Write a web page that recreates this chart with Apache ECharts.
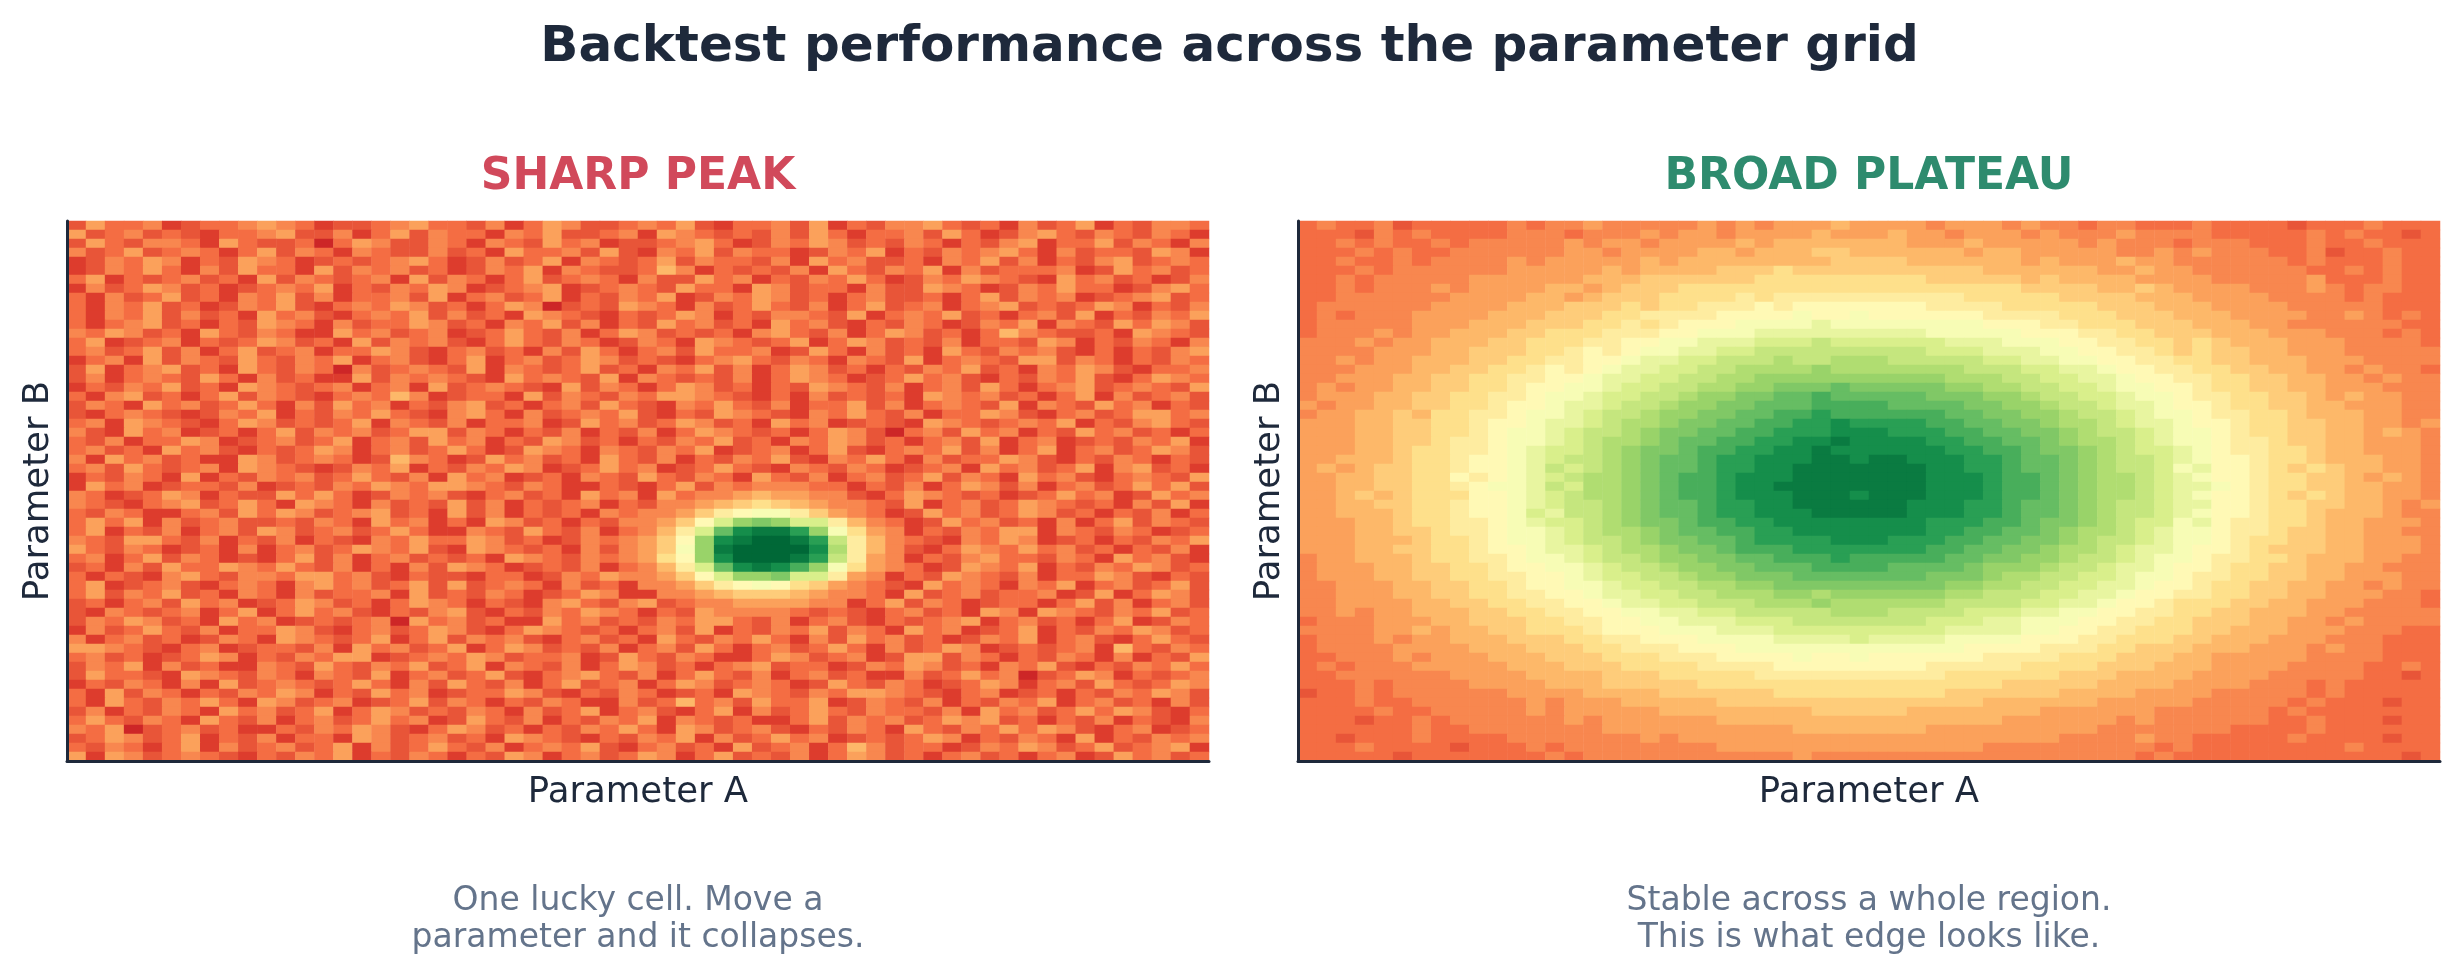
<!DOCTYPE html>
<html>

<head>
    <meta charset="utf-8" />
    <title>Backtest performance across the parameter grid</title>
    <script src="https://cdn.jsdelivr.net/npm/echarts@6.0.0/dist/echarts.min.js"></script>
    <style>
        html, body { margin: 0; padding: 0; background: #ffffff; }
        #main { width: 2459px; height: 972px; }
    </style>
</head>

<body>
    <div id="main"></div>

    <script type="text/javascript">
        // Each letter is one grid cell: a = 0.00 ... z = 1.00 on the colour scale.
        // Rows run top to bottom, 60 cells per row (spaces are only there for reading).
        var sharpPeakRows = [
            'ehffgdeffg hgfdeefghf fegdfhgeef gfhedffgeh dfegghfefd gefhdfeggf',
            'hefgefe dffgheegdf hegffdgfhe efgdhgfefe gehfdffgeh fdeghfegfe gfd',
            'ehf eggfdhfeef cfhgeegfdg fehfgdeefg hfdegfhgef egfdfeghdf fhegfdg',
            'gefhefgfd fhegfdgfee gefdhffgeh edgfhegffd egfhdfegfg hfdgeffehg d',
            'degfh gdfehgfdef efghfdegef hdgfefhegf fegdhfgeef dgfhegdfeg hefgf',
            'd egfhfdgehf fdhegfgefd egfhdgfeef igdfefegdh fegfhdgeff fgdehfgef',
            'fhdfefge fdhegfefgd hegfdfhefg fdgeehfgdf egfhfdegfh gfedhfgefd eg',
            'dgef hgefdefgfh dfegfhgdef ghdefgfehf fdhgeffdge ehgfdegfhf fdeghf',
            'fdgefh efdgfhegdf fgehdfgefh dfegfhdegf hgefdfgeef dfhegfgdef ghef',
            'fd gfhefdegfh edfgfhgefd fhgcefehgf dgefhfegdf hefgdfghef efhgdfeg',
            'fdgfhegefd hfgedfgfhe gefdhgfedf efhgdfeggf ehdfgfhefd fgehdfegfh',
            'fdfghef dfehgfdgef fhgefdgfhe gdfehfgefd hfgedfegfd egfhdgfehf hge',
            'gfh gefdhfegfd dhfgefgdef hfegdfhgef efdghfegdf hgefdfigfe efdhgfe',
            'fhdefgdfe fhgefdhegf gedfhfegfd egfdhgfefh dfhgefegdf fehgdfegfd g',
            'fgefh egdfhefgdf fhgedfgefd gehfdfgehf fgdehfdgef dhfegfgedf dfegh',
            'd fgdhegfehf egfhdfgedf hdfgefhgef edfghfegfd gfehdfgfeh hegfdfegf',
            'ehdfghef dhfegfcgef gfehdgfefh efdgfhegdf hgefdfegfh efdgfhgedf fg',
            'egdf gfehfdgefd dhegfgfedh fgfehdgfef egdfhgfdef hfgedfegfh edfhgf',
            'dfegfh efdhgfefgd fgdhefgfed hegfdfhgef dfehgfegdf gehfdfghef gfeh',
            'fd ghefdfhegf edfgfigdef fdhegfegfh hgfedfdgef efdhgfgefd fhdgefge',
            'egfdhfgefh fdgehfgdfe ghefdfgehf edgfhfegdf fhegdfgfeh dgfehfgdfe',
            'edfgfed egfhdfegfh fedghfdgef gfhedfehgf edgfhfegdf fhgedfgefh hfg',
            'fgd hgfedfhgef efhdgfegdf fgdehfgefh gefdhfgdef edhgfefgfh dfeghfe',
            'gedhfgdef dfhegfgefh hegfdfegdf egdfhgfefd fhgecfgehf gdfehfgefd f',
            'fegdf fhgdefgefh dfgehfgdfe hgefdfegfh efdgfhgefd fgehdfgdef egfhd',
            'f gefdhfgedf efhgdfgefh fdehgfdgfe gfhdefgdfh edfgfhegdf hdfgefhge',
            'gdhfgefd dhgefgfdei gfdehfgefd hfegdfegfh edgfhfdgef fhgedfegfd fe',
            'fgeh fefgdhgfed egfhdfegfh gdefhfgdef hfedgfegfd efgdhfgefh dghefd',
            'dfegfd hdfegfgefh fegdhfgdef dgfehfegfd hfegdfgefh egfdhfgedf gfeh',
            'dhfgdeffeg defegfhgfh hgfegfddfe dfhegfgggf fdfegdfhge gdfgefhfhe',
            'gfdefhgdfe ehfhfdegfg edfgefdhfg dhfgghihhg gedfhgfefd efhfgdehfg',
            'gfedfghefh fdhgfdgefe hegdfefgdf egghijkjih ggfehdfgef hgfefdgehd',
            'fegfddfgeh fhgefghefd hegdfefdgf gghjlmnnlj hgfdehfgef hgefdfegdf',
            'fhfhdgefge efegfdhfgd fdhgefdfeg ghjmpstspp ligfdehfge fdgdfhegfe',
            'fhdfegdfge hgefgefhfd dgfehfegdf gilpuxyyws nkhgdfegfh hdgfegfdef',
            'gfehhfegdf egdfedgfhf fhgefdegfg hjmsxyzzyw qligfedgfh gdefdfegfh',
            'hfegfdefdg dfgefhgfhe dhgfefdgeg hjnsyzzzzx rligedfhgf hfgefdfegd',
            'fgdfhegfde dfhegdfgef efdhgfegfg hkmsxzzzyw qlhgdfeghf fegfdhfged',
            'efdgehffhg fhfegdfdge hgfdefegdf gilpuxyxvs nkhgfdehgf hdfegfhgef',
            'fdfedghfeg gfhhfgedfe edffdegfhg ghjmpsstpp lhgdfehgfe gdffhgedfe',
            'fhdefgedfg fdghfgefhe hefgfdgefd gghjlmnmkj hgfedhfgfd gfhdfgefhe',
            'fhegfhefdg fdgeffgdhe fegfdefhgd dgghijjjih ggfdhefgef fgdehdfhge',
            'efdfgehfgd efhgefdfhg fdfedghfeg hefgghhhhg gdfhegfdef fdfhegdfge',
            'edgfefgdfh dfhfgedfeg hedfegfhgf dfehggggfe fedfgefdhg dhgfegfhef',
            'egfh gefdhfgdef efgchfgefd dhfgefegfh hfegdfgedf efghdfgefd fhdegf',
            'dgefhfegdf fhgedfgefh gedfhgfefd fgehdfegfh egfdhfgdef hdfegfhgef',
            'gdfgefd egfdhgfefh dfhegfgedf gefdhfegfh fdgehfgefd egfhdfgedf hfe',
            'h hgfedfgdef fegdhfgefh dfhgefegdf gehfdfgefh fdgefhgdef efgdifegf',
            'fgefd efhgdfegfh hdefgfhgef fgdehfegfd dfhgefgdeh hegfdfegfd gdfeh',
            'egfhdgefd dgfehfegfh efhdgfegdf hgefdfghef fdegfhgefd gfhedfegfh f',
            'ehf fedhgfegfd gfehdfgefh edfghfegdf hfegdfgefd dgefhfgcef hgdfefg',
            'dfegfd gdhefgfefh fdgehfegdf hefgdfhgef gfdehfegfd efhgdfgehf efhg',
            'fd hegfdfegfh gdfehfgdef fhgedfegfd efdhgfegfh hgfedfgdef dfegfhge',
            'fdhfegfh fdhgefgdef hegfdfegfd dgefifgehf fhdegfegdf egfhdfgefd ge',
            'egdf egfdhfgefh dfhgefegfd gefhdfgedf hdgefhfegf fegdhfgefh fhgedf',
            'fhfegfd hfegdfgefh fgdehfegdf egfhdgfefd dfhegfgefh ghefdfegdf edg',
            'gfhcefgefd dfegfhgedf hgefdfegfh fdhgefgedf egfdhfegfh fhgedfgdef',
            'efh gefhdfegdf fdhgefgefd hgfedfegfh dgefhfgdef efhgdfegfd hdfegfg',
            'fegfd fhdgefgefh dgefhfegdf gfhedfgefd hefgdfigef fdegfhgefh efghd',
            'h dhgefgfedf egfhdfegfd fehgdfgefh gdfhefegdf hgefdfgefd fgdehfgef'
        ];

        var broadPlateauRows = [
            'fgffgeffff fgfgghgggg ghghghhhih hhhghhhghg gfggfffgff ffefffgfff',
            'fffegfgfff fgggfggghg hhghhhhihh hihhghhhgh ggghggggff fffgfgffef',
            'ffgfgffgfg gggghghhgh hhhihiiiii iihhhihhhh hghgggfggg fffgffgfff',
            'fffgfgffgg gggghhghhh hiihiiijji iiiiihiihh hhhgghghgg gffgeffgff',
            'ffgffgfggg ghghhhhhih iiiiiiiijj jjiiiiiihi hhhihhgggg ggfgfffgff',
            'fffgfggggg ghhhhhihii iijjjkjjjj jjjjjjiiii iihhihhggg gggffgfgff',
            'ffgfgggggh hhhhhiiijj jjjjkkkkkk kkkjjjjjij iiiihhhhgg ggghfffgff',
            'ffgfggghgh hhhiihijjj kkkkkkkkkk kkkkkkkkjj jjiijihhhh ggghgfggff',
            'ffgggggghh hhiihijjjk kkklklllll lllllkkkkk jjjjiiihhh hggggfgfff',
            'fgggggghhh hiiijjjkjk klllmlmmmm mmmllllkkk kkjjjiiihh hhgggggfff',
            'fgfggghhhh iiijjjkkll llmmmmnmmn mmmmmmllll kkkjjjiiih hhhgghgfgf',
            'fggggghhhi iijjjkklkl mmmnnnnonn nnnnnnmmml lkkkjjjiii hhggggggff',
            'fggghghhii ijjkkklllm mnnnoooooo ooonnnnnmm mllkkjjjii ihhhgggfgf',
            'ggghghhiii jjkkkllmmn nooopppqpp ppppooonnn mmllkkjkji iihhhggggf',
            'gggghhhiij jjkklmlmnn ooppqqqqqq qqqpppooon nmmllkjkjj iihhhggggg',
            'gghghhiiij jkkllmmnoo ppqqqrqqrr rqqqqqppoo nnmmllkkjj iiihhhgggg',
            'ggghhhiijj kklmlmnoop pqqrrrrsrr rrrrrqqqpp oonmmllkkj jiihhghggf',
            'gghhhiijjk kllmmnoopp qqrrssssss ssssrrrqqp poonmmllkk jjiihhghgg',
            'ghghhiijjk klmmnnoppq qrrsstttut ttttssrrqq pponnmmlkk jjiihhhggg',
            'ghhhiijjkk llmnnoppqq rssttuuvuu uuutttssrq qpponnmllk kjjihihhgg',
            'hghhiijjkk lmmnoopqqr ssttuuuvvv vuuuuttssr qqpoonmmlk kjjiihhhgg',
            'ghhiijikkl lmnnopqqrs sttuuvvwvv vvvvuuttss rqqponnmll kkjiiihhgg',
            'hhhiijjkkl mmnoopqrrs ttuuvvwwxw wwwvvuutts rrqpoonmml kkjjiihhgh',
            'hhhiijjkkl mnnopqqrst tuuvvwwwxx xwwwvvuutt srqqponnml kkjjiihihg',
            'hhhiijjkll mnnopqrrst uuvvwwxxyx xxxwwvvuut srrqponnml lkjjiihhhg',
            'hhhiijkkll mnoppqrstt uvvwwxxyxx xxxxwwvvut tsrqpponml lkkjiihhhg',
            'hhiiijkklm mnopqqrstu uvwwxxxyyx yyxxxwwvuu tsrqqponmm lkkjiiihhg',
            'hihijjkklm mnoqpqrstu uvwwxxyyyy yyyxxwwvuu tsrqqpnomm lkjkjiihhg',
            'hhiijjkkml mnopqrrstu vvwxxxyyyy yyyxxxwvvu tsrrqponmm lkkjjihihg',
            'hhiijjkklm nnoqprrstu vvwxxyyyyy yyyxxxwvvu tsrrqpoonm lkkjjiihhg',
            'hhijijkkkm mnopqrrstu vvwxxxyyyx yyyxxxwvvu tsrrqponmm lkjkjiihhg',
            'hhiijjkklm mnopqqrstu uvwwxxyyyy yyxxxwwvuu tsrqqpoomm lkkjjiihgh',
            'hhiiijkklm mnpoqqrstu uvwwxxxyyy yyxxxwwvuu tsrqqponmm lkkjiiihgg',
            'hhhiijkkll mnoppqrstt uvvwwxxxxx xxxwwwvvut tsrqppnoml lkkjiihhhg',
            'hhhiijjkll mnnopqrrst uuvvwwxxxx xxxwwvvuut srrqponnml lkjjiihhgg',
            'hhhiiijkkl mnnopqqrst tuuvwwwwxx xwwwvvuutt srqqponnml kkjjiihhhg',
            'hhhiijjkkl mmnoopqrrs ttuvvvwwww wwwvvuutts rrqpoonmml kjjjiihhhg',
            'ghhiiijkkl lmnnopqqrs sttuuvvvwv vvvvuuttss rqqponnmll kkjiiihhgg',
            'ghhhiijjkk lmmnnopqqr ssttuuuvvv vuuuutsssr qqpoonmmlk kjjiihhggg',
            'ghhhiijjkk llmmnoppqq rsstttuuuu uuutttsrrq qpponnmllk kjjiihhhgg',
            'gghhhiijjk klmmnnoppq qrrssttttt ttttssrrqq ppoonmmlkk jjiihhghgg',
            'gghhhiijjk kllmmnoopp qqrrrssrss ssssrrqqqp poonmmllkk jjiihhhggf',
            'gghhhhiijj kkllmmnoop pqqqrrrsrr rrrrqqqqpp oonmmlkkkj jiihhhgggf',
            'gghghhiiij jkkllmmnno oppqqqqqrr rqqqqpppoo nnmmllkkjj iiihhggggg',
            'fggghhhiij jjkkllmmnn ooopppqqqq qqqpppoonn nmmllkkjjj iihhghgggg',
            'gggghhihii jjkkklmmmn nnoooppppp ppppoooonn mmllkkkjji iihhhgggff',
            'fggghghhii ijjjkkllmm mnnnnoooop oooonnnnmm mllkkkjjii ihhhgggfff',
            'fgggghhhhi iijjjkklll mmmnnnnnnn nnnnnmmmml llkkjjjiii hhhghggfff',
            'ffggghghhh iiijjjkkkl llmmmmnmmn mmmmmmllll kkkjjjiihh hhhggggfff',
            'fgfggghhhh hiiijjjkkk kllllmmmmm mmmlllllkk kkjjjiiihh hhggggffgf',
            'ffgggggghh hhiiiijjjk kkkkllllll llllkkkkkk jjjiiiihhh hgggggffef',
            'fffgfggggh hhhiiijjjj jkkkkkkkkk kkkkkkkjjj jjiiiihhhh gggfgfffff',
            'effgfggggg ghhhhiiiij jjjjjkkkkk kkkkjjjjjj iiiihhhhgg gggfgfffff',
            'fffgffgggg gghghhhiii iijjjjjjjj jjjjjjiiii iihhhhhggg ggfgfffeff',
            'ffffgffggg gghghhhhhi iiiiiiijjj jjiiiiiiih hhhhhggggg gfgfffffff',
            'fffeffgfgg gggghghhhh hhiiiiiiii iiiiiiihhh hhhghggggg gffgfffeff',
            'ffffffgffg gggggghhhh hhhhhhiiii iiihhhhhhh hhgggggggf fffgffffff',
            'ffefffgfff fggggggghg hhhhhhhhhh hhhhhhhhhh gggghggfff ffgffffeff',
            'fffgffffef ffgfgggggg gghhhhhhhh hhhhhhgggg gggggfgfff fffffgffff',
            'fffffeffff fffgfggggg gggggghggg gggggggggg ggggfgffff ffffffffef'
        ];

        // matplotlib RdYlGn
        var rdYlGn = ['#a50026', '#d73027', '#f46d43', '#fdae61', '#fee08b', '#ffffbf',
            '#d9ef8b', '#a6d96a', '#66bd63', '#1a9850', '#006837'];

        var panelTitles = ['SHARP PEAK', 'BROAD PLATEAU'];
        var panelTitleColors = ['#d1495b', '#2e8b6e'];
        var panelNotes = [
            'One lucky cell. Move a\nparameter and it collapses.',
            'Stable across a whole region.\nThis is what edge looks like.'
        ];

        var nCols = 60, nRows = 60;
        var paramA = [], paramB = [];
        for (var i = 0; i < nCols; i++) paramA.push('A' + (i + 1));
        for (var j = 0; j < nRows; j++) paramB.push('B' + (j + 1));

        function toCells(rows) {
            var out = [];
            rows.forEach(function (row, y) {
                var s = row.replace(/ /g, '');
                for (var x = 0; x < s.length && x < nCols; x++) {
                    out.push([x, y, (s.charCodeAt(x) - 97) / 25]);
                }
            });
            return out;
        }

        var myChart = echarts.init(document.getElementById('main'), null, { renderer: 'canvas' });

        var font = '"DejaVu Sans", "Noto Sans", sans-serif';
        var ink = '#1e293b';
        var gridLeft = [67, 1298];
        var gridW = 1142, gridTop = 221, gridH = 540;

        function axisPair(k) {
            return {
                x: {
                    type: 'category', gridIndex: k, data: paramA, z: 10,
                    axisLine: { show: true, lineStyle: { color: ink, width: 3 } },
                    axisTick: { show: false }, axisLabel: { show: false }, splitLine: { show: false }
                },
                y: {
                    type: 'category', gridIndex: k, data: paramB, inverse: true, z: 10,
                    axisLine: { show: true, lineStyle: { color: ink, width: 3 } },
                    axisTick: { show: false }, axisLabel: { show: false }, splitLine: { show: false }
                }
            };
        }

        var graphics = [{
            type: 'text', x: 1229.5, y: 48,
            style: {
                text: 'Backtest performance across the parameter grid',
                fontFamily: font, fontSize: 50, fontWeight: 'bold', fill: ink,
                textAlign: 'center', textVerticalAlign: 'middle'
            }
        }];

        [0, 1].forEach(function (k) {
            var cx = gridLeft[k] + gridW / 2;
            graphics.push({
                type: 'text', x: cx, y: 178,
                style: {
                    text: panelTitles[k], fontFamily: font, fontSize: 44, fontWeight: 'bold',
                    fill: panelTitleColors[k], textAlign: 'center', textVerticalAlign: 'middle'
                }
            });
            graphics.push({
                type: 'text', x: cx, y: 792.5,
                style: {
                    text: 'Parameter A', fontFamily: font, fontSize: 35.5, fill: ink,
                    textAlign: 'center', textVerticalAlign: 'middle'
                }
            });
            graphics.push({
                type: 'text', x: gridLeft[k] - 28.5, y: gridTop + gridH / 2, rotation: Math.PI / 2,
                style: {
                    text: 'Parameter B', fontFamily: font, fontSize: 35.5, fill: ink,
                    textAlign: 'center', textVerticalAlign: 'middle'
                }
            });
            graphics.push({
                type: 'text', x: cx, y: 920,
                style: {
                    text: panelNotes[k], fontFamily: font, fontSize: 33, lineHeight: 37, fill: '#64748b',
                    textAlign: 'center', textVerticalAlign: 'middle'
                }
            });
        });

        var a0 = axisPair(0), a1 = axisPair(1);

        var option = {
            backgroundColor: '#ffffff',
            animation: false,
            grid: [
                { left: gridLeft[0], top: gridTop, width: gridW, height: gridH },
                { left: gridLeft[1], top: gridTop, width: gridW, height: gridH }
            ],
            xAxis: [a0.x, a1.x],
            yAxis: [a0.y, a1.y],
            visualMap: {
                show: false, type: 'continuous', min: 0, max: 1,
                seriesIndex: [0, 1], inRange: { color: rdYlGn }
            },
            graphic: graphics,
            series: [
                {
                    name: panelTitles[0], type: 'heatmap', xAxisIndex: 0, yAxisIndex: 0,
                    data: toCells(sharpPeakRows), progressive: 0,
                    itemStyle: { borderWidth: 0 }, emphasis: { disabled: true }
                },
                {
                    name: panelTitles[1], type: 'heatmap', xAxisIndex: 1, yAxisIndex: 1,
                    data: toCells(broadPlateauRows), progressive: 0,
                    itemStyle: { borderWidth: 0 }, emphasis: { disabled: true }
                }
            ]
        };

        myChart.setOption(option);
    </script>
</body>

</html>
